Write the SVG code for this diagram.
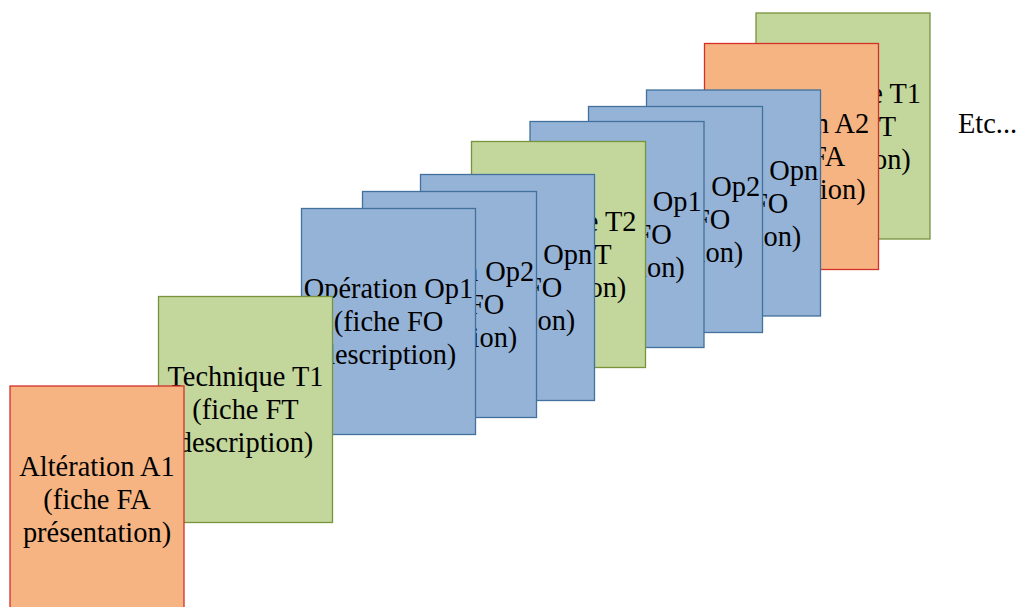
<svg xmlns="http://www.w3.org/2000/svg" width="1016" height="607" viewBox="0 0 1016 607">
  <style>
    .card { stroke-width: 1.3; }
    .fa { fill: #F5B482; stroke: #D3302A; }
    .ft { fill: #C3D69B; stroke: #77933C; }
    .fo { fill: #95B3D7; stroke: #41719C; }
    .lbl, .etc { font-family: "Liberation Serif", Tinos, "Times New Roman", "Noto Serif", "DejaVu Serif", serif; font-size: 28.4px; fill: #000; }
    .lbl { text-anchor: middle; }
  </style>
  <defs>
    <rect id="sheet" width="174" height="226"/>
  </defs>
  <rect width="1016" height="607" fill="#fff"/>

  <!-- sheets are stacked from the back (top right) to the front (bottom left) -->
  <g id="card-t1-back" transform="translate(756,13)">
    <use href="#sheet" class="card ft"/>
    <text class="lbl" x="87" y="89.5">Technique T1</text>
    <text class="lbl" x="87" y="122.5">(fiche FT</text>
    <text class="lbl" x="87" y="155.5">description)</text>
  </g>
  <g id="card-a2" transform="translate(704.5,43.5)">
    <use href="#sheet" class="card fa"/>
    <text class="lbl" x="87" y="89.5">Altération A2</text>
    <text class="lbl" x="87" y="122.5">(fiche FA</text>
    <text class="lbl" x="87" y="155.5">présentation)</text>
  </g>
  <g id="card-opn-2" transform="translate(646.5,90)">
    <use href="#sheet" class="card fo"/>
    <text class="lbl" x="87" y="89.5">Opération Opn</text>
    <text class="lbl" x="87" y="122.5">(fiche FO</text>
    <text class="lbl" x="87" y="155.5">description)</text>
  </g>
  <g id="card-op2-2" transform="translate(588.5,106.5)">
    <use href="#sheet" class="card fo"/>
    <text class="lbl" x="87" y="89.5">Opération Op2</text>
    <text class="lbl" x="87" y="122.5">(fiche FO</text>
    <text class="lbl" x="87" y="155.5">description)</text>
  </g>
  <g id="card-op1-2" transform="translate(530,121.5)">
    <use href="#sheet" class="card fo"/>
    <text class="lbl" x="87" y="89.5">Opération Op1</text>
    <text class="lbl" x="87" y="122.5">(fiche FO</text>
    <text class="lbl" x="87" y="155.5">description)</text>
  </g>
  <g id="card-t2" transform="translate(471.5,141.5)">
    <use href="#sheet" class="card ft"/>
    <text class="lbl" x="87" y="89.5">Technique T2</text>
    <text class="lbl" x="87" y="122.5">(fiche FT</text>
    <text class="lbl" x="87" y="155.5">description)</text>
  </g>
  <g id="card-opn-1" transform="translate(420.5,174.5)">
    <use href="#sheet" class="card fo"/>
    <text class="lbl" x="87" y="89.5">Opération Opn</text>
    <text class="lbl" x="87" y="122.5">(fiche FO</text>
    <text class="lbl" x="87" y="155.5">description)</text>
  </g>
  <g id="card-op2-1" transform="translate(362.5,191.5)">
    <use href="#sheet" class="card fo"/>
    <text class="lbl" x="87" y="89.5">Opération Op2</text>
    <text class="lbl" x="87" y="122.5">(fiche FO</text>
    <text class="lbl" x="87" y="155.5">description)</text>
  </g>
  <g id="card-op1-1" transform="translate(301.5,208.5)">
    <use href="#sheet" class="card fo"/>
    <text class="lbl" x="87" y="89.5">Opération Op1</text>
    <text class="lbl" x="87" y="122.5">(fiche FO</text>
    <text class="lbl" x="87" y="155.5">description)</text>
  </g>
  <g id="card-t1" transform="translate(158.5,296.5)">
    <use href="#sheet" class="card ft"/>
    <text class="lbl" x="87" y="89.5">Technique T1</text>
    <text class="lbl" x="87" y="122.5">(fiche FT</text>
    <text class="lbl" x="87" y="155.5">description)</text>
  </g>
  <g id="card-a1" transform="translate(10,386)">
    <use href="#sheet" class="card fa"/>
    <text class="lbl" x="87" y="89.5">Altération A1</text>
    <text class="lbl" x="87" y="122.5">(fiche FA</text>
    <text class="lbl" x="87" y="155.5">présentation)</text>
  </g>

  <g id="connectors"/>

  <g id="etc">
    <text class="etc" x="958" y="132.5">Etc...</text>
  </g>
</svg>
